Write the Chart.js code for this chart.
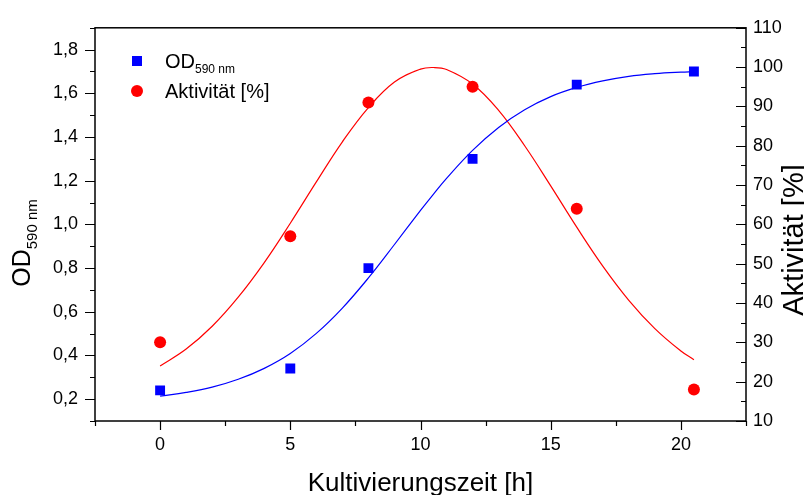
<!DOCTYPE html>
<html>
<head>
<meta charset="utf-8">
<script src="https://cdn.jsdelivr.net/npm/chart.js@4.4.1/dist/chart.umd.min.js"></script>
<style>
  html, body { margin: 0; padding: 0; background: #fff; }
  #wrap { width: 804px; height: 495px; }
</style>
</head>
<body>
<div id="wrap"><canvas id="odChart"></canvas></div>
<script>
const FONT = "'Liberation Sans', Arial, sans-serif";

// measured samples
const hours = [0, 5, 8, 12, 16, 20.5];
const odValues = [0.24, 0.34, 0.80, 1.30, 1.64, 1.70];
const activityValues = [30, 57, 91, 95, 64, 18];

// fitted curves (sigmoid for OD, peak for activity)
const fitHours = [0, 1, 2, 3, 4, 5, 6, 7, 8, 9, 10, 10.5, 11, 12, 13, 14, 15, 16, 17, 18, 19, 20, 20.5];
const odFit = [0.214, 0.231, 0.255, 0.291, 0.341, 0.409, 0.501, 0.617, 0.755, 0.908, 1.064, 1.139,
               1.211, 1.339, 1.444, 1.525, 1.585, 1.627, 1.657, 1.678, 1.690, 1.697, 1.699];
const activityFit = [24.0, 28.3, 34.1, 41.5, 50.3, 60.3, 70.8, 81.0, 89.7, 96.2, 99.5, 99.9,
                     99.4, 95.7, 89.0, 80.0, 69.8, 59.3, 49.4, 40.7, 33.5, 27.8, 25.6];

// axis ticks
const xTicks = [0, 5, 10, 15, 20];
const xMinor = [-2.5, 2.5, 7.5, 12.5, 17.5, 22.5];
const odTicks = [0.2, 0.4, 0.6, 0.8, 1.0, 1.2, 1.4, 1.6, 1.8];
const odMinor = [0.1, 0.3, 0.5, 0.7, 0.9, 1.1, 1.3, 1.5, 1.7, 1.9];
const activityTicks = [10, 20, 30, 40, 50, 60, 70, 80, 90, 100, 110];
const activityMinor = [15, 25, 35, 45, 55, 65, 75, 85, 95, 105];

const BLUE = '#0000ff';
const RED = '#ff0000';

const pts = (xs, ys) => xs.map((x, i) => ({x: x, y: ys[i]}));

// frame, tick marks, axis titles and legend
const decorations = {
  id: 'decorations',
  afterDraw(chart) {
    const {ctx, chartArea: a, scales} = chart;
    ctx.save();
    ctx.strokeStyle = '#000';
    ctx.lineWidth = 1.5;
    ctx.strokeRect(a.left, a.top, a.right - a.left, a.bottom - a.top);

    ctx.lineWidth = 1.2;
    ctx.beginPath();
    const xt = (vals, len) => vals.forEach(v => {
      const px = Math.round(scales.x.getPixelForValue(v)) + 0.5;
      ctx.moveTo(px, a.bottom); ctx.lineTo(px, a.bottom + len);
    });
    const yt = (vals, len) => vals.forEach(v => {
      const py = Math.round(scales.y.getPixelForValue(v)) + 0.5;
      ctx.moveTo(a.left, py); ctx.lineTo(a.left - len, py);
    });
    const y1t = (vals, len) => vals.forEach(v => {
      const py = Math.round(scales.y1.getPixelForValue(v)) + 0.5;
      ctx.moveTo(a.right, py); ctx.lineTo(a.right - len, py);
    });
    xt(xTicks, 9); xt(xMinor, 5);
    yt(odTicks, 10); yt(odMinor, 5);
    y1t(activityTicks, 10); y1t(activityMinor, 5);
    ctx.stroke();

    ctx.fillStyle = '#000';
    // x title
    ctx.font = `26px ${FONT}`;
    ctx.textAlign = 'center';
    ctx.textBaseline = 'alphabetic';
    ctx.fillText('Kultivierungszeit [h]', (a.left + a.right) / 2, 491);

    // left title with subscript
    ctx.save();
    ctx.translate(30, 243);
    ctx.rotate(-Math.PI / 2);
    ctx.font = `25px ${FONT}`;
    const odW = ctx.measureText('OD').width;
    ctx.font = `15px ${FONT}`;
    const subW = ctx.measureText('590 nm').width;
    const start = -(odW + subW) / 2;
    ctx.textAlign = 'left';
    ctx.font = `25px ${FONT}`;
    ctx.fillText('OD', start, 0);
    ctx.font = `15px ${FONT}`;
    ctx.fillText('590 nm', start + odW, 7);
    ctx.restore();

    // right title
    ctx.save();
    ctx.translate(803, 240);
    ctx.rotate(-Math.PI / 2);
    ctx.font = `29px ${FONT}`;
    ctx.textAlign = 'center';
    ctx.fillText('Aktivität [%]', 0, 0);
    ctx.restore();

    // legend
    ctx.fillStyle = BLUE;
    ctx.fillRect(132, 56, 10, 10);
    ctx.fillStyle = RED;
    ctx.beginPath();
    ctx.arc(137, 91, 6, 0, Math.PI * 2);
    ctx.fill();
    ctx.fillStyle = '#000';
    ctx.textAlign = 'left';
    ctx.font = `20px ${FONT}`;
    ctx.fillText('OD', 165, 68);
    const w = ctx.measureText('OD').width;
    ctx.font = `12px ${FONT}`;
    ctx.fillText('590 nm', 165 + w, 73);
    ctx.font = `20px ${FONT}`;
    ctx.fillText('Aktivität [%]', 165, 98);
    ctx.restore();
  }
};

const tickFont = {family: FONT, size: 18};

new Chart(document.getElementById('odChart'), {
  type: 'scatter',
  data: {
    datasets: [
      {
        label: 'OD fit', data: pts(fitHours, odFit), yAxisID: 'y',
        showLine: true, borderColor: BLUE, borderWidth: 1.2, pointRadius: 0, tension: 0.4, order: 2
      },
      {
        label: 'Aktivität fit', data: pts(fitHours, activityFit), yAxisID: 'y1',
        showLine: true, borderColor: RED, borderWidth: 1.2, pointRadius: 0, tension: 0.4, order: 2
      },
      {
        label: 'OD 590 nm', data: pts(hours, odValues), yAxisID: 'y',
        pointStyle: 'rect', pointRadius: 7, backgroundColor: BLUE, borderWidth: 0, order: 1
      },
      {
        label: 'Aktivität [%]', data: pts(hours, activityValues), yAxisID: 'y1',
        pointStyle: 'circle', pointRadius: 6, backgroundColor: RED, borderWidth: 0, order: 1
      }
    ]
  },
  options: {
    responsive: true,
    maintainAspectRatio: false,
    animation: false,
    layout: {padding: {top: 25, left: 0, right: 0, bottom: 0}},
    plugins: {legend: {display: false}, tooltip: {enabled: false}},
    scales: {
      x: {
        type: 'linear', min: -2.5, max: 22.5,
        grid: {display: false, drawTicks: false}, border: {display: false},
        afterBuildTicks: s => { s.ticks = xTicks.map(v => ({value: v})); },
        afterFit: s => { s.height = 74; },
        ticks: {padding: 13, color: '#000', font: tickFont, maxRotation: 0, autoSkip: false,
                callback: v => String(v)}
      },
      y: {
        position: 'left', min: 0.1, max: 1.9,
        grid: {display: false, drawTicks: false}, border: {display: false},
        afterBuildTicks: s => { s.ticks = odTicks.map(v => ({value: v})); },
        afterFit: s => { s.width = 95; },
        ticks: {padding: 17, color: '#000', font: tickFont, autoSkip: false,
                callback: v => v.toFixed(1).replace('.', ',')}
      },
      y1: {
        position: 'right', min: 10, max: 110,
        grid: {display: false, drawTicks: false}, border: {display: false},
        afterBuildTicks: s => { s.ticks = activityTicks.map(v => ({value: v})); },
        afterFit: s => { s.width = 58; },
        ticks: {padding: 7, color: '#000', font: tickFont, autoSkip: false,
                callback: v => String(v)}
      }
    }
  },
  plugins: [decorations]
});
</script>
</body>
</html>
